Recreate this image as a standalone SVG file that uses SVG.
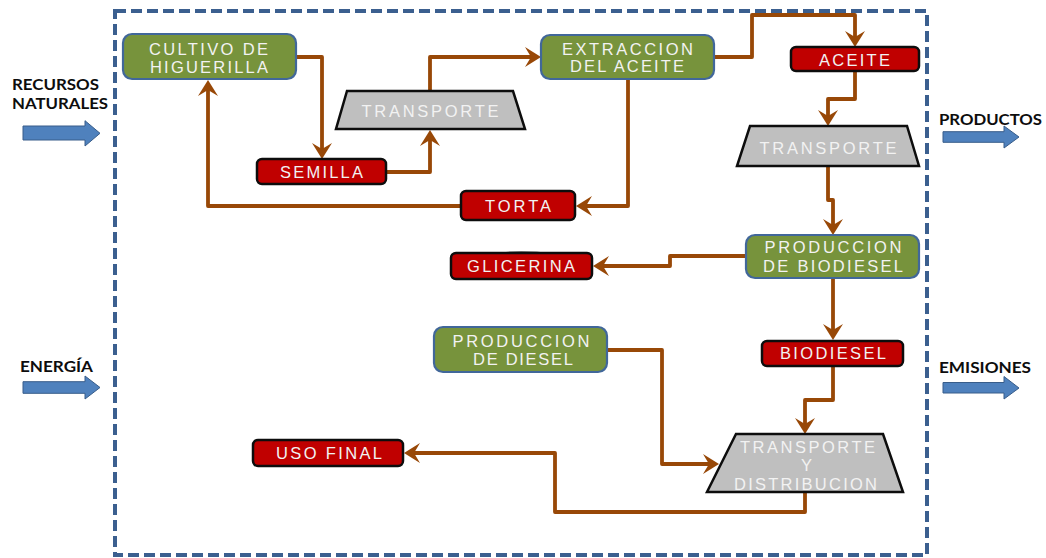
<svg xmlns="http://www.w3.org/2000/svg" width="1046" height="558" viewBox="0 0 1046 558">
  <style>
    .frame { fill: none; stroke: #3b5f8f; stroke-width: 4; stroke-dasharray: 11 5; }
    .proc { fill: #77933c; stroke: #41679a; stroke-width: 2.2; }
    .prod { fill: #c00000; stroke: #0d0d0d; stroke-width: 2.5; }
    .trans { fill: #bfbfbf; stroke: #0d0d0d; stroke-width: 2.5; stroke-linejoin: miter; }
    .lbl { font-family: "Liberation Sans", Arial, sans-serif; font-size: 16.5px; fill: #f2f2f2; text-anchor: middle; }
    .side { font-family: Lato, "Open Sans", sans-serif; font-weight: 700; font-size: 15px; fill: #0d0d0d; }
    .flow { fill: none; stroke: #984807; stroke-width: 3.8; stroke-linejoin: round; marker-end: url(#ah); }
    .io { fill: #4f81bd; stroke: #385d8a; stroke-width: 1; }
  </style>
  <defs>
    <marker id="ah" markerUnits="userSpaceOnUse" markerWidth="22" markerHeight="22" viewBox="-18 -11 22 22" refX="-6" refY="0" orient="auto" overflow="visible">
      <path d="M0,0 L-16,-10 L-10,0 L-16,10 Z" fill="#984807"/>
    </marker>
  </defs>

  <rect x="0" y="0" width="1046" height="558" fill="#ffffff"/>

  <!-- system boundary -->
  <rect class="frame" x="115" y="11" width="812" height="544"/>

  <!-- inputs and outputs at the boundary -->
  <g id="recursos">
    <text class="side" x="12" y="90" textLength="87" lengthAdjust="spacingAndGlyphs">RECURSOS</text>
    <text class="side" x="12" y="109" textLength="96" lengthAdjust="spacingAndGlyphs">NATURALES</text>
    <path class="io" d="M23,126 H85 V120.7 L100,133.3 L85,146 V140 H23 Z"/>
  </g>
  <g id="energia">
    <text class="side" x="20" y="372" textLength="73" lengthAdjust="spacingAndGlyphs">ENERGÍA</text>
    <path class="io" d="M23,381.7 H85 V376 L100,387.5 L85,399 V393.3 H23 Z"/>
  </g>
  <g id="productos">
    <text class="side" x="939" y="125" textLength="103" lengthAdjust="spacingAndGlyphs">PRODUCTOS</text>
    <path class="io" d="M943,131.7 H1004 V126 L1019,137 L1004,148 V142.3 H943 Z"/>
  </g>
  <g id="emisiones">
    <text class="side" x="939" y="372.5" textLength="92" lengthAdjust="spacingAndGlyphs">EMISIONES</text>
    <path class="io" d="M943,382.5 H1004 V376.5 L1019,388 L1004,399 V393 H943 Z"/>
  </g>

  <!-- connectors -->
  <g id="connectors">
    <path class="flow" d="M296,57 H322 V153"/>
    <path class="flow" d="M386,172 H430 V136"/>
    <path class="flow" d="M430,91 V57 H535"/>
    <path class="flow" d="M628,79 V206 H582"/>
    <path class="flow" d="M461,206 H208 V86"/>
    <path class="flow" d="M714,57 H752 V15 H855 V41"/>
    <path class="flow" d="M855,71 V99 H828 V120"/>
    <path class="flow" d="M828,166 V200 H833 V229"/>
    <path class="flow" d="M746,256 H670 V266 H599"/>
    <path class="flow" d="M833,278 V334"/>
    <path class="flow" d="M833,366 V400 H805 V428"/>
    <path class="flow" d="M607,350 H662 V464 H713"/>
    <path class="flow" d="M805,492 V512 H555 V453 H410"/>
  </g>

  <!-- nodes -->
  <g id="cultivo">
    <rect class="proc" x="123" y="34" width="173" height="45" rx="9"/>
    <text class="lbl" x="208.5" y="54.5" textLength="119" lengthAdjust="spacing">CULTIVO DE</text>
    <text class="lbl" x="209" y="72.5" textLength="118" lengthAdjust="spacing">HIGUERILLA</text>
  </g>
  <g id="semilla">
    <rect class="prod" x="257" y="159" width="129" height="25" rx="5"/>
    <text class="lbl" x="321.5" y="178.3" textLength="83" lengthAdjust="spacing">SEMILLA</text>
  </g>
  <g id="transporte1">
    <polygon class="trans" points="347,91 513,91 525,129 336,129"/>
    <text class="lbl" x="430" y="117.3" textLength="137" lengthAdjust="spacing">TRANSPORTE</text>
  </g>
  <g id="extraccion">
    <rect class="proc" x="541" y="35" width="173" height="44" rx="9"/>
    <text class="lbl" x="627.5" y="54.5" textLength="131" lengthAdjust="spacing">EXTRACCION</text>
    <text class="lbl" x="627" y="72.3" textLength="114" lengthAdjust="spacing">DEL ACEITE</text>
  </g>
  <g id="torta">
    <rect class="prod" x="461" y="191" width="114" height="29" rx="5"/>
    <text class="lbl" x="518" y="212.3" textLength="66" lengthAdjust="spacing">TORTA</text>
  </g>
  <g id="aceite">
    <rect class="prod" x="791" y="47" width="128" height="24" rx="5"/>
    <text class="lbl" x="854.5" y="66" textLength="71" lengthAdjust="spacing">ACEITE</text>
  </g>
  <g id="transporte2">
    <polygon class="trans" points="750,126 907,126 919,166 737,166"/>
    <text class="lbl" x="828" y="154.3" textLength="137" lengthAdjust="spacing">TRANSPORTE</text>
  </g>
  <g id="produccion-biodiesel">
    <rect class="proc" x="746" y="235" width="173" height="43" rx="9"/>
    <text class="lbl" x="833" y="253.3" textLength="137" lengthAdjust="spacing">PRODUCCION</text>
    <text class="lbl" x="833" y="272.3" textLength="140" lengthAdjust="spacing">DE BIODIESEL</text>
  </g>
  <g id="glicerina">
    <path d="M453,257 Q521,246 590,257 Z" fill="#0d0d0d"/>
    <rect class="prod" x="451" y="253" width="141" height="26" rx="5"/>
    <text class="lbl" x="521" y="272.3" textLength="108" lengthAdjust="spacing">GLICERINA</text>
  </g>
  <g id="biodiesel">
    <rect class="prod" x="762" y="341" width="141" height="25" rx="5"/>
    <text class="lbl" x="833" y="359.3" textLength="106" lengthAdjust="spacing">BIODIESEL</text>
  </g>
  <g id="produccion-diesel">
    <rect class="proc" x="434" y="327" width="173" height="45" rx="9"/>
    <text class="lbl" x="521" y="347.3" textLength="137" lengthAdjust="spacing">PRODUCCION</text>
    <text class="lbl" x="523" y="365" textLength="100" lengthAdjust="spacing">DE DIESEL</text>
  </g>
  <g id="transporte-distribucion">
    <polygon class="trans" points="736,434 883,434 903,492 707,492"/>
    <text class="lbl" x="807.5" y="453" textLength="135" lengthAdjust="spacing">TRANSPORTE</text>
    <text class="lbl" x="806.5" y="471">Y</text>
    <text class="lbl" x="805.5" y="489.5" textLength="143" lengthAdjust="spacing">DISTRIBUCION</text>
  </g>
  <g id="uso-final">
    <rect class="prod" x="253" y="440" width="150" height="26" rx="5"/>
    <text class="lbl" x="329" y="459.3" textLength="106" lengthAdjust="spacing">USO FINAL</text>
  </g>
</svg>
